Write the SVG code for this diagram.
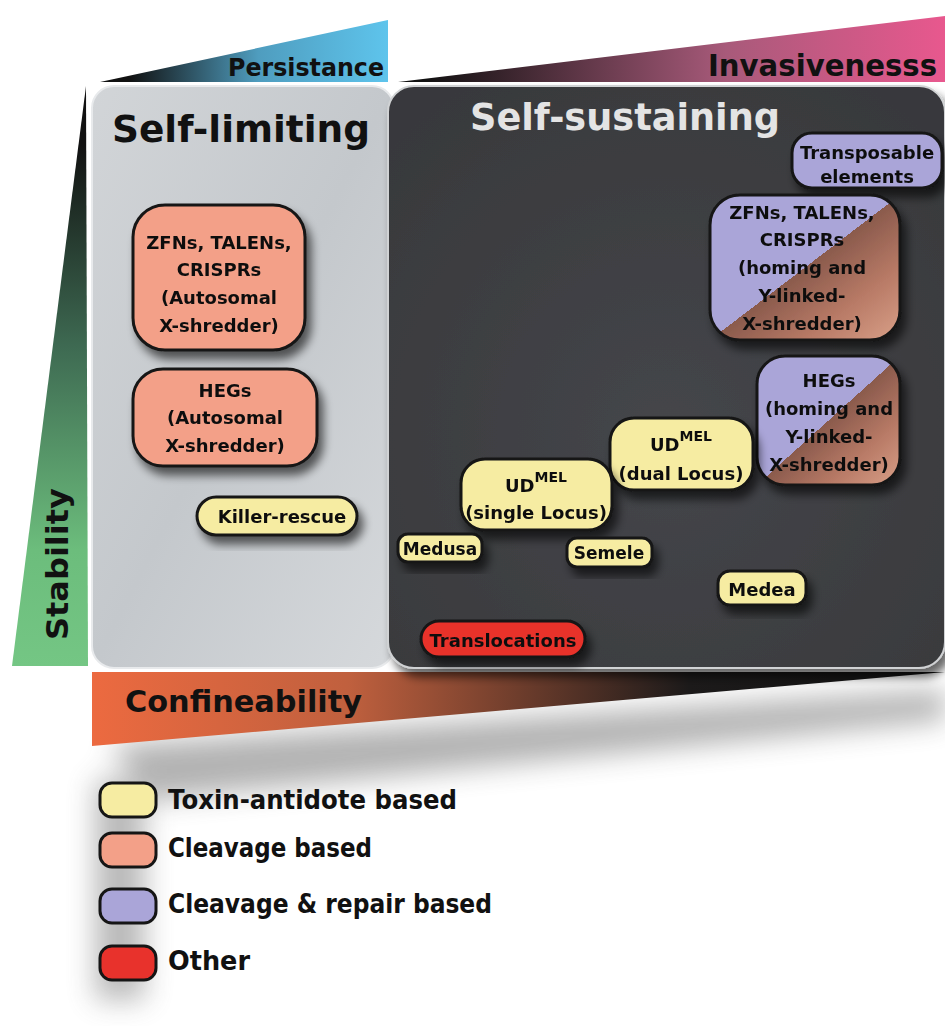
<svg xmlns="http://www.w3.org/2000/svg" width="945" height="1026" viewBox="0 0 945 1026">
<defs>
<style>
.t{font-family:"DejaVu Sans","Liberation Sans",sans-serif;font-weight:bold;fill:#111}
.n{font-size:18px;text-anchor:middle}
.s{font-size:17px}
.box{stroke:#151515;stroke-width:3}
.ye{fill:#f6eca2}
.or{fill:#f3a088}
.pu{fill:#aaa5d8}
.re{fill:#e8322c}
</style>
<linearGradient id="gPers" x1="0" y1="0" x2="1" y2="0">
<stop offset="0.1" stop-color="#111"/><stop offset="0.55" stop-color="#4f9dbf"/><stop offset="1" stop-color="#5ec4ec"/>
</linearGradient>
<linearGradient id="gInv" x1="0" y1="0" x2="1" y2="0">
<stop offset="0.05" stop-color="#111"/><stop offset="0.6" stop-color="#a85a7a"/><stop offset="1" stop-color="#e8588e"/>
</linearGradient>
<linearGradient id="gStab" x1="0" y1="0" x2="0" y2="1">
<stop offset="0.1" stop-color="#111"/><stop offset="0.45" stop-color="#3e6a52"/><stop offset="0.8" stop-color="#6cbd7c"/><stop offset="1" stop-color="#74c684"/>
</linearGradient>
<linearGradient id="gConf" x1="0" y1="0" x2="1" y2="0">
<stop offset="0" stop-color="#ec6a40"/><stop offset="0.3" stop-color="#c0603e"/><stop offset="0.7" stop-color="#1c1a1a"/><stop offset="1" stop-color="#111"/>
</linearGradient>
<linearGradient id="gLim" x1="0" y1="0" x2="1" y2="1">
<stop offset="0" stop-color="#d2d5d8"/><stop offset="0.5" stop-color="#c4c8cc"/><stop offset="1" stop-color="#d6d9dc"/>
</linearGradient>
<radialGradient id="gSus" cx="0.5" cy="0.6" r="0.7">
<stop offset="0" stop-color="#45464a"/><stop offset="1" stop-color="#38393c"/>
</radialGradient>
<linearGradient id="gMix" x1="0" y1="0" x2="1" y2="1">
<stop offset="0.5" stop-color="#aaa5d8"/><stop offset="0.5" stop-color="#8a5a4c"/><stop offset="0.75" stop-color="#b87a66"/><stop offset="1" stop-color="#d9a088"/>
</linearGradient>
<filter id="sh" x="-20%" y="-20%" width="150%" height="160%">
<feGaussianBlur in="SourceAlpha" stdDeviation="5"/>
<feOffset dx="5" dy="8" result="b"/>
<feComponentTransfer><feFuncA type="linear" slope="0.6"/></feComponentTransfer>
<feMerge><feMergeNode/><feMergeNode in="SourceGraphic"/></feMerge>
</filter>
<filter id="blur"><feGaussianBlur stdDeviation="14"/></filter>
</defs>
<rect width="945" height="1026" fill="#fff"/>
<!-- background soft shadows -->
<g opacity="0.45" filter="url(#blur)">
<polygon points="110,745 945,690 945,720 150,800" fill="#555"/>
<rect x="95" y="780" width="50" height="220" fill="#666"/>
</g>

<!-- axis triangles -->
<g id="persistance">
<polygon points="100,82 388,20 388,82" fill="url(#gPers)"/>
<text class="t" x="228" y="76" font-size="24" textLength="156" lengthAdjust="spacingAndGlyphs">Persistance</text>
</g>
<g id="invasiveness">
<polygon points="398,82 945,16 945,82" fill="url(#gInv)"/>
<text class="t" x="708" y="76" font-size="30" textLength="229" lengthAdjust="spacingAndGlyphs">Invasivenesss</text>
</g>
<g id="stability">
<polygon points="86,86 88,666 12,666" fill="url(#gStab)"/>
<text class="t" transform="translate(68,640) rotate(-90)" font-size="30" textLength="152" lengthAdjust="spacingAndGlyphs">Stability</text>
</g>
<g id="confineability">
<polygon points="92,672 945,672 92,746" fill="url(#gConf)"/>
<text class="t" x="125" y="712" font-size="31" textLength="237" lengthAdjust="spacingAndGlyphs">Confineability</text>
</g>

<!-- panels -->
<g id="self-limiting">
<rect x="92" y="86" width="302" height="582" rx="22" fill="url(#gLim)" stroke="#e8eaec" stroke-width="2"/>
<text class="t" x="112" y="142" font-size="38" textLength="258" lengthAdjust="spacingAndGlyphs">Self-limiting</text>
</g>
<g id="self-sustaining">
<rect x="388" y="86" width="557" height="582" rx="26" fill="url(#gSus)" stroke="#d0d2d4" stroke-width="2" filter="url(#sh)"/>
<text class="t" x="470" y="130" font-size="38" style="fill:#e4e4e4" textLength="310" lengthAdjust="spacingAndGlyphs">Self-sustaining</text>
</g>

<!-- nodes -->
<g id="zfn-autosomal" filter="url(#sh)">
<rect class="box or" x="133" y="205" width="172" height="145" rx="32"/>
<text class="t n" x="219" y="249">ZFNs, TALENs,</text>
<text class="t n" x="219" y="276">CRISPRs</text>
<text class="t n" x="219" y="304">(Autosomal</text>
<text class="t n" x="219" y="332">X-shredder)</text>
</g>
<g id="hegs-autosomal" filter="url(#sh)">
<rect class="box or" x="133" y="369" width="184" height="97" rx="30"/>
<text class="t n" x="225" y="397">HEGs</text>
<text class="t n" x="225" y="424">(Autosomal</text>
<text class="t n" x="225" y="452">X-shredder)</text>
</g>
<g id="killer-rescue" filter="url(#sh)">
<rect class="box ye" x="197" y="497" width="160" height="38" rx="19"/>
<text class="t n" x="282" y="523">Killer-rescue</text>
</g>
<g id="transposable" filter="url(#sh)">
<rect class="box pu" x="792" y="133" width="150" height="55" rx="20"/>
<text class="t n" x="867" y="159">Transposable</text>
<text class="t n" x="867" y="183">elements</text>
</g>
<g id="zfn-homing" filter="url(#sh)">
<rect class="box" x="710" y="195" width="190" height="145" rx="30" fill="url(#gMix)"/>
<text class="t n" x="802" y="219">ZFNs, TALENs,</text>
<text class="t n" x="802" y="246">CRISPRs</text>
<text class="t n" x="802" y="274">(homing and</text>
<text class="t n" x="802" y="302">Y-linked-</text>
<text class="t n" x="802" y="330">X-shredder)</text>
</g>
<g id="hegs-homing" filter="url(#sh)">
<rect class="box" x="757" y="356" width="143" height="129" rx="28" fill="url(#gMix)"/>
<text class="t n" x="829" y="387">HEGs</text>
<text class="t n" x="829" y="415">(homing and</text>
<text class="t n" x="829" y="443">Y-linked-</text>
<text class="t n" x="829" y="471">X-shredder)</text>
</g>
<g id="udmel-dual" filter="url(#sh)">
<rect class="box ye" x="610" y="418" width="143" height="72" rx="24"/>
<text class="t n" x="681" y="451">UD<tspan font-size="14" dy="-10">MEL</tspan></text>
<text class="t n" x="681" y="480">(dual Locus)</text>
</g>
<g id="udmel-single" filter="url(#sh)">
<rect class="box ye" x="461" y="459" width="151" height="71" rx="24"/>
<text class="t n" x="536" y="492">UD<tspan font-size="14" dy="-10">MEL</tspan></text>
<text class="t n" x="536" y="519">(single Locus)</text>
</g>
<g id="medusa" filter="url(#sh)">
<rect class="box ye" x="398" y="534" width="84" height="28" rx="10"/>
<text class="t n s" x="440" y="555">Medusa</text>
</g>
<g id="semele" filter="url(#sh)">
<rect class="box ye" x="567" y="538" width="85" height="29" rx="10"/>
<text class="t n s" x="609" y="559">Semele</text>
</g>
<g id="medea" filter="url(#sh)">
<rect class="box ye" x="718" y="571" width="88" height="34" rx="12"/>
<text class="t n" x="762" y="596">Medea</text>
</g>
<g id="translocations" filter="url(#sh)">
<rect class="box re" x="421" y="621" width="164" height="36" rx="18"/>
<text class="t n" x="503" y="647">Translocations</text>
</g>

<!-- legend -->
<g id="legend">
<rect class="box ye" x="100" y="783" width="56" height="34" rx="12"/>
<rect class="box or" x="100" y="833" width="56" height="34" rx="12"/>
<rect class="box pu" x="100" y="889" width="56" height="34" rx="12"/>
<rect class="box re" x="100" y="946" width="56" height="34" rx="12"/>
<text class="t" x="168" y="809" font-size="26" textLength="289" lengthAdjust="spacingAndGlyphs">Toxin-antidote based</text>
<text class="t" x="168" y="857" font-size="26" textLength="204" lengthAdjust="spacingAndGlyphs">Cleavage based</text>
<text class="t" x="168" y="913" font-size="26" textLength="324" lengthAdjust="spacingAndGlyphs">Cleavage &amp; repair based</text>
<text class="t" x="168" y="970" font-size="26" textLength="82" lengthAdjust="spacingAndGlyphs">Other</text>
</g>
<g id="connectors"/>
</svg>
